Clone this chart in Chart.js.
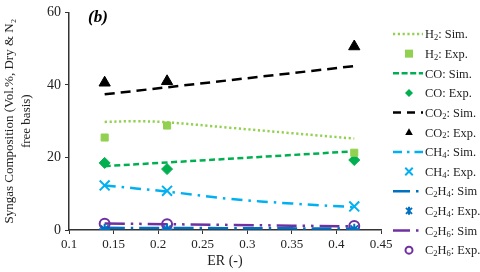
<!DOCTYPE html>
<html><head><meta charset="utf-8">
<script src="https://cdn.jsdelivr.net/npm/chart.js@4.4.1/dist/chart.umd.min.js"></script>
<style>html,body{margin:0;padding:0;background:#fff}#w{width:480px;height:272px}</style>
</head><body><div id="w"><canvas id="c" width="480" height="272"></canvas></div>
<script>
// Data
const expER = [0.14, 0.21, 0.42];
const h2Exp = [25.5, 28.8, 21.3];
const coExp = [18.5, 16.8, 19.3];
const co2Exp = [40.6, 41.0, 50.6];
const ch4Exp = [12.3, 10.8, 6.5];
const c2h4Exp = [0.2, 0.2, 0.2];
const c2h6Exp = [1.7, 1.6, 1.1];

const h2SimER = [0.14, 0.175, 0.21, 0.28, 0.35, 0.42];
const h2Sim = [29.8, 30.0, 29.7, 28.2, 26.7, 25.2];
const coSimER = [0.14, 0.42];
const coSim = [17.6, 21.7];
const co2SimER = [0.14, 0.42];
const co2Sim = [37.4, 45.2];
const ch4SimER = [0.14, 0.21, 0.28, 0.35, 0.42];
const ch4Sim = [12.3, 10.6, 8.6, 7.3, 6.3];
const c2h4SimER = [0.14, 0.28, 0.42];
const c2h4Sim = [0.6, 0.5, 0.4];
const c2h6SimER = [0.14, 0.28, 0.42];
const c2h6Sim = [1.8, 1.4, 1.0];

const xTickLabels = ['0.1','0.15','0.2','0.25','0.3','0.35','0.4','0.45'];
const yTickLabels = ['0','20','40','60'];
// "_d" marks a subscript digit in the legend text
const labels = ['H_2: Sim.','H_2: Exp.','CO: Sim.','CO: Exp.','CO_2: Sim.','CO_2: Exp.','CH_4: Sim.','CH_4: Exp.','C_2H_4: Sim','C_2H_4: Exp.','C_2H_6: Sim','C_2H_6: Exp.'];

const pts = (xs, ys) => xs.map((x, i) => ({x, y: ys[i]}));
const serif = '"Liberation Serif","Times New Roman",serif';

function simDS(label, xs, ys, color, dash, w) {
  return {label, data: pts(xs, ys), showLine: true, borderColor: color, backgroundColor: color,
    borderWidth: w || 2.5, borderDash: dash, pointRadius: 0, pointHoverRadius: 0, fill: false, tension: 0.35, order: 2};
}
function expDS(label, ys, color, style, r, fillC, bw) {
  return {label, data: pts(expER, ys), showLine: false, pointStyle: style, pointRadius: r,
    pointBackgroundColor: fillC, pointBorderColor: color, pointBorderWidth: bw, order: 1};
}

const datasets = [
  simDS(labels[0], h2SimER, h2Sim, '#92d050', [2.2, 2.6]),
  expDS(labels[1], h2Exp, '#92d050', 'rect', 5, '#92d050', 1),
  simDS(labels[2], coSimER, coSim, '#00b050', [6, 3.5]),
  expDS(labels[3], coExp, '#00b050', 'rectRot', 5.5, '#00b050', 1),
  simDS(labels[4], co2SimER, co2Sim, '#000000', [10, 6]),
  expDS(labels[5], co2Exp, '#000000', 'triangle', 6.5, '#000000', 1),
  simDS(labels[6], ch4SimER, ch4Sim, '#00b0f0', [11, 6, 2.5, 6]),
  expDS(labels[7], ch4Exp, '#00b0f0', 'crossRot', 7, '#00b0f0', 2),
  simDS(labels[8], c2h4SimER, c2h4Sim, '#0070c0', [20, 6, 2.5, 6]),
  expDS(labels[9], c2h4Exp, '#0070c0', 'star', 5.5, '#0070c0', 2),
  simDS(labels[10], c2h6SimER, c2h6Sim, '#7030a0', [20, 6, 2.5, 6, 2.5, 6]),
  expDS(labels[11], c2h6Exp, '#7030a0', 'circle', 5, 'rgba(255,255,255,0)', 2),
];
const legendDash = [[2.2, 2.6], null, [6, 2.6], null, [8, 6], null, [9, 5, 2.5, 5], null, [17, 6, 2.5, 20], null, [17, 6, 2.5, 20], null];

function drawMarker(ctx, style, x, y, r, color, fillC, bw) {
  ctx.save();
  ctx.strokeStyle = color; ctx.fillStyle = fillC; ctx.lineWidth = bw;
  ctx.beginPath();
  if (style === 'rect') { const s = r * 2; ctx.rect(x - s/2, y - s/2, s, s); ctx.fill(); }
  else if (style === 'rectRot') { ctx.moveTo(x, y - r); ctx.lineTo(x + r, y); ctx.lineTo(x, y + r); ctx.lineTo(x - r, y); ctx.closePath(); ctx.fill(); }
  else if (style === 'triangle') { ctx.moveTo(x, y - r); ctx.lineTo(x + r * 0.95, y + r * 0.7); ctx.lineTo(x - r * 0.95, y + r * 0.7); ctx.closePath(); ctx.fill(); }
  else if (style === 'crossRot') { const d = r * 0.75; ctx.moveTo(x-d,y-d); ctx.lineTo(x+d,y+d); ctx.moveTo(x+d,y-d); ctx.lineTo(x-d,y+d); ctx.stroke(); }
  else if (style === 'star') { const d = r * 0.75; ctx.moveTo(x-d,y-d); ctx.lineTo(x+d,y+d); ctx.moveTo(x+d,y-d); ctx.lineTo(x-d,y+d); ctx.moveTo(x,y-r); ctx.lineTo(x,y+r); ctx.stroke(); }
  else if (style === 'circle') { ctx.arc(x, y, r, 0, Math.PI * 2); ctx.stroke(); }
  ctx.restore();
}

function drawRich(ctx, text, x, y) {
  const main = '12.4px ' + serif, sub = '8.5px ' + serif;
  let i = 0;
  while (i < text.length) {
    if (text[i] === '_') {
      ctx.font = sub; const s = text[i + 1];
      ctx.fillText(s, x, y + 3); x += ctx.measureText(s).width; i += 2;
    } else {
      let j = i; while (j < text.length && text[j] !== '_') j++;
      const s = text.slice(i, j); ctx.font = main;
      ctx.fillText(s, x, y); x += ctx.measureText(s).width; i = j;
    }
  }
}

const legendPlugin = {
  id: 'customLegend',
  afterDraw(chart) {
    const ctx = chart.ctx;
    ctx.save();
    ctx.font = 'italic bold 17px ' + serif;
    ctx.fillStyle = '#000'; ctx.textBaseline = 'middle'; ctx.textAlign = 'left';
    ctx.fillText('(b)', 88, 18);
    const x0 = 393, x1 = 423, tx = 425, y0 = 34, dy = 19.65;
    chart.data.datasets.forEach((ds, i) => {
      const y = y0 + i * dy;
      if (ds.showLine) {
        ctx.save();
        ctx.strokeStyle = ds.borderColor; ctx.lineWidth = ds.borderWidth;
        ctx.setLineDash(legendDash[i] || []);
        ctx.beginPath(); ctx.moveTo(x0, y); ctx.lineTo(x1, y); ctx.stroke();
        ctx.restore();
      } else {
        const r = ds.pointStyle === 'crossRot' ? 5 : (ds.pointStyle === 'circle' ? 3.5 : 4);
        drawMarker(ctx, ds.pointStyle, 409, y, r, ds.pointBorderColor, ds.pointBackgroundColor, ds.pointBorderWidth);
      }
      ctx.fillStyle = '#222';
      drawRich(ctx, ds.label, tx, y + 1);
    });
    ctx.restore();
  }
};

new Chart(document.getElementById('c'), {
  type: 'scatter',
  data: {datasets},
  options: {
    responsive: false, animation: false,
    layout: {padding: {left: 0, right: 99, top: 7, bottom: 0}},
    plugins: {legend: {display: false}, tooltip: {enabled: false}},
    scales: {
      x: {
        type: 'linear', min: 0.1, max: 0.45,
        afterFit(s) { s.height = 42; },
        afterBuildTicks(s) { s.ticks = xTickLabels.map(v => ({value: parseFloat(v)})); },
        ticks: {callback: (v, i) => xTickLabels[i], font: {family: serif, size: 13}, color: '#222', padding: 3, maxRotation: 0, autoSkip: false},
        grid: {display: true, drawOnChartArea: false, drawTicks: true, tickLength: 4, color: '#333', lineWidth: 1},
        border: {display: true, color: '#333', width: 1.5},
        title: {display: true, text: 'ER (-)', font: {family: serif, size: 14}, color: '#222', padding: {top: 0, bottom: 2}}
      },
      y: {
        type: 'linear', min: 0, max: 60,
        afterFit(s) { s.width = 69; },
        afterBuildTicks(s) { s.ticks = yTickLabels.map(v => ({value: parseFloat(v)})); },
        ticks: {callback: (v, i) => yTickLabels[i], font: {family: serif, size: 14}, color: '#222', padding: 4},
        grid: {display: true, drawOnChartArea: false, drawTicks: true, tickLength: 4, color: '#333', lineWidth: 1},
        border: {display: true, color: '#333', width: 1.5},
        title: {display: true, text: ['Syngas Composition (Vol.%, Dry & N₂', 'free basis)'], font: {family: serif, size: 13, lineHeight: 1.3}, color: '#222', padding: {top: 1, bottom: 0}}
      }
    }
  },
  plugins: [legendPlugin]
});
</script></body></html>
